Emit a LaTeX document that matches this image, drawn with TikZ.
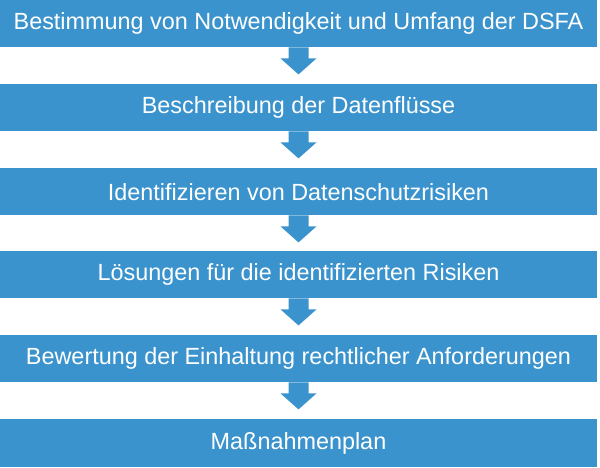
\documentclass[tikz,border=0pt]{standalone}
\usepackage{fontspec}
\setmainfont{Liberation Sans}
\usetikzlibrary{calc}
\definecolor{boxblue}{RGB}{59,147,205}
\tikzset{
  stepbox/.style={fill=boxblue, draw=none, inner sep=0pt, minimum width=597pt, minimum height=47pt, anchor=north, text=white, font=\fontsize{23.4}{27}\selectfont},
  blockarrow/.style={fill=boxblue, draw=none}
}
\begin{document}
\begin{tikzpicture}[x=1pt,y=-1pt]
\useasboundingbox (0,0) rectangle (600,468);
\node[stepbox] (b1) at (298.5,0) {Bestimmung von Notwendigkeit und Umfang der DSFA};
\node[stepbox] (b2) at (298.5,84) {Beschreibung der Datenflüsse};
\node[stepbox] (b3) at (298.5,168) {Identifizieren von Datenschutzrisiken};
\node[stepbox] (b4) at (298.5,251) {Lösungen für die identifizierten Risiken};
\node[stepbox] (b5) at (298.5,335) {Bewertung der Einhaltung rechtlicher Anforderungen};
\node[stepbox, minimum height=48pt] (b6) at (298.5,419) {Maßnahmenplan};
\foreach \a/\b in {b1/b2,b2/b3,b3/b4,b4/b5,b5/b6}{
  \fill[blockarrow] ($(\a.south)+(-10,0)$) -- ++(20,0) -- ++(0,11) -- ++(8,0)
    -- ($(\a.south)+(0,27)$) -- ($(\a.south)+(-18,11)$) -- ++(8,0) -- cycle;
}
\end{tikzpicture}
\end{document}
